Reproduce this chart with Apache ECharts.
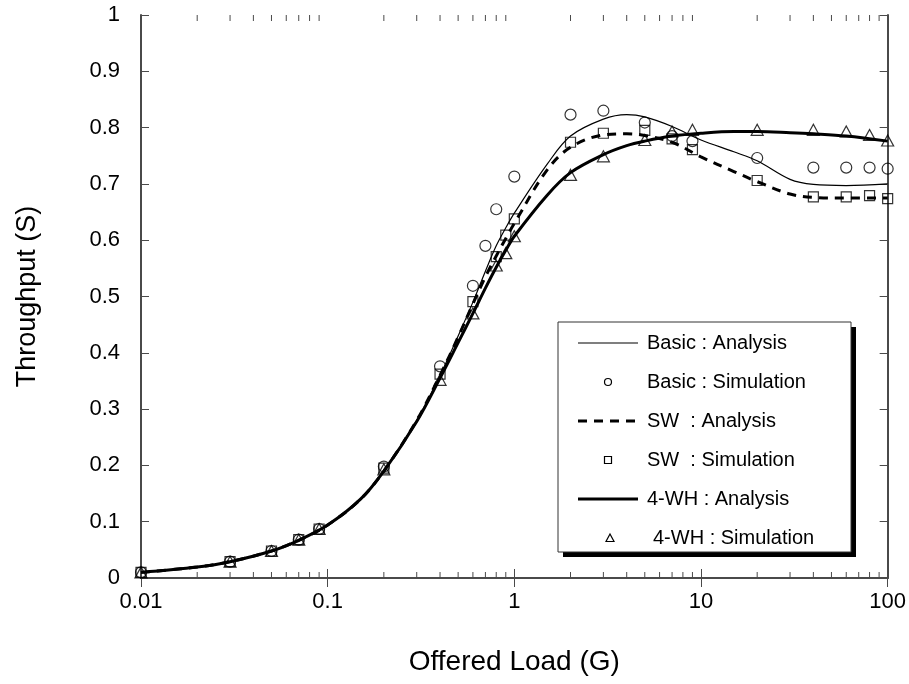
<!DOCTYPE html>
<html>
<head>
<meta charset="utf-8">
<script src="https://cdn.jsdelivr.net/npm/echarts@6/dist/echarts.min.js"></script>
<style>
html,body{margin:0;padding:0;background:#fff;}
#chart{width:909px;height:684px;}
</style>
</head>
<body>
<div id="chart"></div>
<script>
// ---- data ----
const analysisG = [0.01,0.02,0.03,0.05,0.07,0.1,0.15,0.2,0.3,0.4,0.5,0.6,0.7,0.8,0.9,1,1.5,2,3,4,5,7,10,15,20,30,40,60,100];
const basicAnalysis = [0.010,0.0195,0.029,0.048,0.067,0.094,0.14,0.19,0.28,0.36,0.43,0.49,0.545,0.59,0.622,0.648,0.735,0.785,0.815,0.823,0.819,0.802,0.778,0.757,0.741,0.708,0.699,0.697,0.700];
const swAnalysis    = [0.010,0.0195,0.029,0.048,0.067,0.094,0.14,0.19,0.28,0.36,0.428,0.487,0.535,0.572,0.603,0.630,0.725,0.765,0.787,0.789,0.786,0.774,0.748,0.722,0.704,0.682,0.676,0.675,0.675];
const whAnalysis    = [0.010,0.0195,0.029,0.048,0.067,0.094,0.14,0.19,0.278,0.355,0.418,0.47,0.515,0.552,0.582,0.607,0.68,0.72,0.752,0.768,0.776,0.785,0.790,0.793,0.793,0.791,0.789,0.785,0.776];

const basicSimG = [0.01,0.03,0.05,0.07,0.09,0.2,0.4,0.6,0.7,0.8,1,2,3,5,7,9,20,40,60,80,100];
const basicSim  = [0.010,0.029,0.048,0.068,0.087,0.198,0.376,0.519,0.590,0.655,0.713,0.823,0.830,0.809,0.785,0.776,0.746,0.729,0.729,0.729,0.727];

const swSimG = [0.01,0.03,0.05,0.07,0.09,0.2,0.4,0.6,0.8,0.9,1,2,3,5,7,9,20,40,60,80,100];
const swSim  = [0.010,0.029,0.048,0.068,0.087,0.195,0.362,0.491,0.571,0.609,0.638,0.774,0.790,0.795,0.780,0.761,0.706,0.677,0.677,0.679,0.674];

const whSimG = [0.01,0.03,0.05,0.07,0.09,0.2,0.4,0.6,0.8,0.9,1,2,3,5,7,9,20,40,60,80,100];
const whSim  = [0.010,0.029,0.048,0.068,0.087,0.193,0.352,0.470,0.555,0.577,0.607,0.716,0.749,0.778,0.793,0.796,0.796,0.796,0.793,0.787,0.777];

const minorTicks = [0.02,0.03,0.04,0.05,0.06,0.07,0.08,0.09,
                    0.2,0.3,0.4,0.5,0.6,0.7,0.8,0.9,
                    2,3,4,5,6,7,8,9,
                    20,30,40,50,60,70,80,90];

const legendItems = ["Basic : Analysis","Basic : Simulation","SW  : Analysis","SW  : Simulation","4-WH : Analysis","4-WH : Simulation"];
const xTitle = "Offered Load (G)";
const yTitle = "Throughput (S)";

// ---- chart ----
const FONT = '"Liberation Sans", Arial, Helvetica, sans-serif';
const pair = (xs, ys) => xs.map((x, i) => [x, ys[i]]);
const axisColor = '#4a4a4a';

const chart = echarts.init(document.getElementById('chart'), null, {renderer: 'canvas'});

const L = {x: 558, y: 322, w: 293, h: 230};
const rowY = [343, 382, 421, 460, 499, 538];
const textX = 647;
const legendGraphics = [
  {type: 'rect', shape: {x: L.x + 5, y: L.y + 5, width: L.w, height: L.h}, style: {fill: '#000'}, z: 100},
  {type: 'rect', shape: {x: L.x, y: L.y, width: L.w, height: L.h}, style: {fill: '#fff', stroke: '#333', lineWidth: 1}, z: 101},
  {type: 'line', shape: {x1: 578, y1: rowY[0], x2: 638, y2: rowY[0]}, style: {stroke: '#000', lineWidth: 1.2}, z: 102},
  {type: 'circle', shape: {cx: 608, cy: rowY[1], r: 3.5}, style: {fill: 'none', stroke: '#000', lineWidth: 1.2}, z: 102},
  {type: 'line', shape: {x1: 578, y1: rowY[2], x2: 638, y2: rowY[2]}, style: {stroke: '#000', lineWidth: 3, lineDash: [9, 7]}, z: 102},
  {type: 'rect', shape: {x: 604.5, y: rowY[3] - 3.5, width: 7, height: 7}, style: {fill: 'none', stroke: '#000', lineWidth: 1.2}, z: 102},
  {type: 'line', shape: {x1: 578, y1: rowY[4], x2: 638, y2: rowY[4]}, style: {stroke: '#000', lineWidth: 3}, z: 102},
  {type: 'polygon', shape: {points: [[610, rowY[5] - 4], [614, rowY[5] + 3.5], [606, rowY[5] + 3.5]]}, style: {fill: 'none', stroke: '#000', lineWidth: 1.2}, z: 102}
];
legendItems.forEach((t, i) => {
  legendGraphics.push({
    type: 'text', x: (i === 5 ? 653 : textX), y: rowY[i], z: 102,
    style: {text: t, font: '20px ' + FONT, fill: '#000', verticalAlign: 'middle', textAlign: 'left'}
  });
});

const baseX = {
  type: 'log', logBase: 10, min: 0.01, max: 100,
  axisLine: {show: true, lineStyle: {color: axisColor, width: 2}},
  axisTick: {show: true, inside: true, length: 9, lineStyle: {color: axisColor, width: 1}},
  splitLine: {show: false},
  minorTick: {show: false}
};
const baseY = {
  type: 'value', min: 0, max: 1, interval: 0.1,
  axisLine: {show: true, lineStyle: {color: axisColor, width: 2}},
  axisTick: {show: true, inside: true, length: 8, lineStyle: {color: axisColor, width: 1}},
  splitLine: {show: false}
};

const option = {
  backgroundColor: '#fff',
  animation: false,
  grid: {left: 141, right: 19, top: 15, bottom: 106, containLabel: false},
  xAxis: [
    Object.assign({}, baseX, {
      position: 'bottom',
      name: xTitle, nameLocation: 'middle', nameGap: 70,
      nameTextStyle: {fontFamily: FONT, fontSize: 28, color: '#000'},
      axisLabel: {show: true, margin: 13, fontFamily: FONT, fontSize: 22, color: '#000',
        formatter: v => String(v)}
    }),
    Object.assign({}, baseX, {position: 'top', axisLabel: {show: false}})
  ],
  yAxis: [
    Object.assign({}, baseY, {
      position: 'left',
      name: yTitle, nameLocation: 'middle', nameGap: 100,
      nameTextStyle: {fontFamily: FONT, fontSize: 27, color: '#000'},
      axisLabel: {show: true, margin: 21, fontFamily: FONT, fontSize: 22, color: '#000'}
    }),
    Object.assign({}, baseY, {position: 'right', axisLabel: {show: false}})
  ],
  graphic: legendGraphics,
  series: [
    {
      type: 'custom', name: 'minor ticks', silent: true, clip: false,
      renderItem: function (params, api) {
        const v = api.value(0);
        const b = api.coord([v, 0]);
        const t = api.coord([v, 1]);
        return {type: 'group', children: [
          {type: 'line', shape: {x1: b[0], y1: b[1], x2: b[0], y2: b[1] - 6}, style: {stroke: axisColor, lineWidth: 1}},
          {type: 'line', shape: {x1: t[0], y1: t[1], x2: t[0], y2: t[1] + 6}, style: {stroke: axisColor, lineWidth: 1}}
        ]};
      },
      data: minorTicks.map(v => [v, 0])
    },
    {type: 'line', name: 'Basic : Analysis', data: pair(analysisG, basicAnalysis), smooth: 0.35,
      showSymbol: false, lineStyle: {color: '#000', width: 1.2}, z: 3},
    {type: 'line', name: 'SW : Analysis', data: pair(analysisG, swAnalysis), smooth: 0.35,
      showSymbol: false, lineStyle: {color: '#000', width: 3, type: [9, 7]}, z: 3},
    {type: 'line', name: '4-WH : Analysis', data: pair(analysisG, whAnalysis), smooth: 0.35,
      showSymbol: false, lineStyle: {color: '#000', width: 3}, z: 3},
    {type: 'scatter', name: 'Basic : Simulation', data: pair(basicSimG, basicSim), symbol: 'circle', symbolSize: 11,
      itemStyle: {color: 'rgba(0,0,0,0)', borderColor: '#000', borderWidth: 1.2}, z: 4},
    {type: 'scatter', name: 'SW : Simulation', data: pair(swSimG, swSim), symbol: 'rect', symbolSize: 10,
      itemStyle: {color: 'rgba(0,0,0,0)', borderColor: '#000', borderWidth: 1.2}, z: 4},
    {type: 'scatter', name: '4-WH : Simulation', data: pair(whSimG, whSim), symbol: 'triangle', symbolSize: [12, 11],
      itemStyle: {color: 'rgba(0,0,0,0)', borderColor: '#000', borderWidth: 1.2}, z: 4}
  ]
};
chart.setOption(option);
</script>
</body>
</html>
